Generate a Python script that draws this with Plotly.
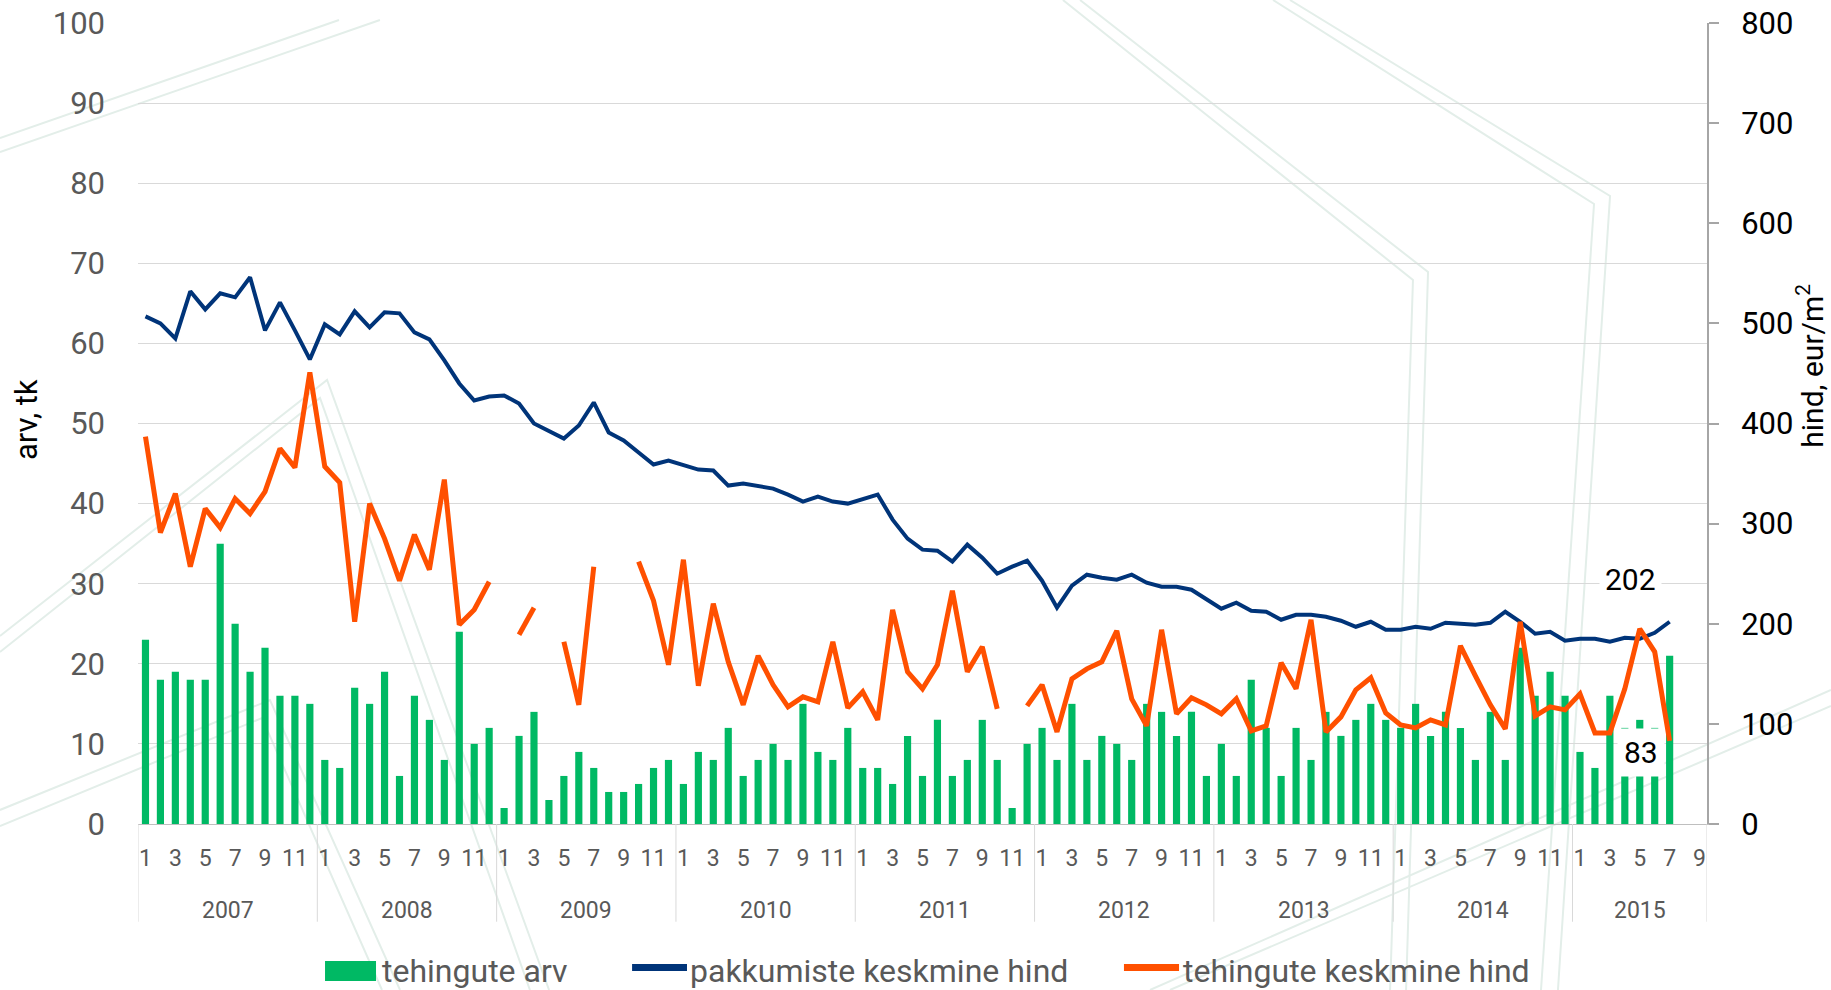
import plotly.graph_objects as go

# ---------------- data ----------------
years = [2007, 2008, 2009, 2010, 2011, 2012, 2013, 2014, 2015]
months_in_axis = [12, 12, 12, 12, 12, 12, 12, 12, 9]
shown_months = [1, 3, 5, 7, 9, 11]

# tehingute arv (left axis, count)
tehingute_arv = [
    23, 18, 19, 18, 18, 35, 25, 19, 22, 16, 16, 15,   # 2007
    8, 7, 17, 15, 19, 6, 16, 13, 8, 24, 10, 12,       # 2008
    2, 11, 14, 3, 6, 9, 7, 4, 4, 5, 7, 8,             # 2009
    5, 9, 8, 12, 6, 8, 10, 8, 15, 9, 8, 12,           # 2010
    7, 7, 5, 11, 6, 13, 6, 8, 13, 8, 2, 10,           # 2011
    12, 8, 15, 8, 11, 10, 8, 15, 14, 11, 14, 6,       # 2012
    10, 6, 18, 12, 6, 12, 8, 14, 11, 13, 15, 13,      # 2013
    12, 15, 11, 14, 12, 8, 14, 8, 22, 16, 19, 16,     # 2014
    9, 7, 16, 12, 13, 12, 21,                         # 2015
]

# pakkumiste keskmine hind (right axis, eur/m2)
pakkumiste_hind = [
    507, 500, 485, 532, 514, 530, 526, 546, 493, 521, 493, 464,
    499, 489, 512, 496, 511, 510, 491, 484, 463, 440, 423, 427,
    428, 420, 400, 392, 385, 398, 421, 391, 383, 371, 359, 363,
    359, 354, 353, 338, 340, 338, 335, 329, 322, 327, 322, 320,
    325, 329, 304, 285, 274, 273, 262, 279, 266, 250, 257, 263,
    243, 216, 238, 249, 246, 244, 249, 241, 237, 237, 234, 224,
    215, 221, 213, 212, 204, 209, 209, 207, 203, 197, 202, 194,
    194, 197, 195, 201, 200, 199, 201, 212, 202, 190, 192, 183,
    185, 185, 182, 186, 185, 191, 202,
]

# tehingute keskmine hind (right axis, eur/m2); None = no data
tehingute_hind = [
    387, 291, 330, 257, 315, 296, 325, 310, 332, 375, 356, 451,
    357, 341, 202, 320, 285, 243, 289, 254, 344, 199, 214, 242,
    None, 189, 216, None, 182, 119, 257, None, None, 262, 223, 159,
    264, 138, 220, 162, 119, 168, 139, 117, 127, 122, 182, 116,
    132, 104, 214, 152, 135, 159, 233, 152, 177, 115, None, 118,
    139, 92, 145, 155, 162, 193, 125, 98, 194, 110, 126, 119,
    110, 125, 93, 98, 161, 135, 204, 92, 107, 134, 146, 111,
    99, 96, 104, 99, 178, 148, 119, 95, 202, 108, 117, 114,
    130, 91, 91, 135, 195, 172, 83,
]

legend_names = ["tehingute arv", "pakkumiste keskmine hind", "tehingute keskmine hind"]

# ---------------- derived axis structure ----------------
slots = [(y, m) for y, n in zip(years, months_in_axis) for m in range(1, n + 1)]
tickvals = [i for i, (y, m) in enumerate(slots) if m in shown_months]
ticktext = [str(slots[i][1]) for i in tickvals]
x_data = list(range(len(tehingute_arv)))

boundaries = [-0.5]
centers = []
pos = -0.5
for n in months_in_axis:
    centers.append(pos + n / 2)
    pos += n
    boundaries.append(pos)

GREEN = "#00B964"
NAVY = "#003479"
ORANGE = "#FF5000"
GRID = "#D9D9D9"
GRAY_TXT = "#595959"
WM = "#E3EEE9"
FONT = "Roboto"

W, H = 1831, 990
ML, MR, MT, MB = 138, 124, 23, 166
PW, PH = W - ML - MR, H - MT - MB


def px(X, Y):
    """page pixel -> paper coordinates (for decoration only)"""
    return (X - ML) / PW, (H - MB - Y) / PH


def wm_path(points):
    pts = [px(X, Y) for X, Y in points]
    return "M " + " L ".join(f"{a:.4f},{b:.4f}" for a, b in pts)


fig = go.Figure()
fig.add_trace(go.Bar(x=x_data, y=tehingute_arv, name=legend_names[0],
                     marker=dict(color=GREEN, line=dict(width=0)), yaxis="y"))
fig.add_trace(go.Scatter(x=x_data, y=pakkumiste_hind, name=legend_names[1],
                         mode="lines", line=dict(color=NAVY, width=4), yaxis="y2"))
fig.add_trace(go.Scatter(x=x_data, y=tehingute_hind, name=legend_names[2],
                         mode="lines", line=dict(color=ORANGE, width=5),
                         connectgaps=False, yaxis="y2"))

shapes = []
# faint background watermark (decorative double lines)
watermark = [
    [(0, 138), (339, 20)], [(0, 152), (380, 20)],
    [(0, 636), (327, 380), (549, 990)], [(0, 652), (320, 398), (530, 990)],
    [(0, 810), (270, 700), (400, 990)], [(0, 826), (262, 718), (382, 990)],
    [(1063, 0), (1413, 280), (1390, 990)], [(1080, 0), (1428, 272), (1406, 990)],
    [(1273, 0), (1594, 204), (1541, 990)], [(1290, 0), (1610, 196), (1558, 990)],
    [(1150, 990), (1831, 690)], [(1170, 990), (1831, 706)],
]
for pts in watermark:
    shapes.append(dict(type="path", xref="paper", yref="paper", path=wm_path(pts),
                       line=dict(color=WM, width=2), layer="below"))

for b in boundaries:
    shapes.append(dict(type="line", xref="x", yref="paper", x0=b, x1=b, y0=0, y1=-0.122,
                       line=dict(color=GRID, width=1)))

# manual legend (paper coordinates)
leg_y = -0.183
shapes += [
    dict(type="rect", xref="paper", yref="paper", x0=0.1192, x1=0.1517, y0=-0.171, y1=-0.196,
         fillcolor=GREEN, line=dict(width=0)),
    dict(type="line", xref="paper", yref="paper", x0=0.3149, x1=0.3499, y0=-0.179, y1=-0.179,
         line=dict(color=NAVY, width=7)),
    dict(type="line", xref="paper", yref="paper", x0=0.6284, x1=0.6635, y0=-0.179, y1=-0.179,
         line=dict(color=ORANGE, width=7)),
]

annotations = []
for c, yv in zip(centers, years):
    annotations.append(dict(x=c, y=-0.108, xref="x", yref="paper", text=str(yv),
                            showarrow=False, font=dict(family=FONT, size=23, color=GRAY_TXT),
                            yanchor="middle"))

for xl, name in zip([0.1540, 0.3505, 0.6650], legend_names):
    annotations.append(dict(x=xl, y=leg_y, xref="paper", yref="paper", text=name,
                            xanchor="left", yanchor="middle", showarrow=False,
                            font=dict(family=FONT, size=32, color=GRAY_TXT)))

annotations += [
    dict(x=-0.071, y=0.505, xref="paper", yref="paper", text="arv, tk", textangle=-90,
         xanchor="center", yanchor="middle",
         showarrow=False, font=dict(family=FONT, size=31, color="#000000")),
    dict(x=1.0662, y=0.572, xref="paper", yref="paper", text="hind, eur/m<sup>2</sup>",
         textangle=-90, xanchor="center", yanchor="middle",
         showarrow=False, font=dict(family=FONT, size=30, color="#000000")),
    dict(x=x_data[-1], y=pakkumiste_hind[-1], xref="x", yref="y2", text=str(pakkumiste_hind[-1]),
         showarrow=False, xshift=-39, yshift=42, bgcolor="white", borderpad=5,
         font=dict(family=FONT, size=30, color="#000000")),
    dict(x=x_data[-1], y=tehingute_hind[-1], xref="x", yref="y2", text=str(tehingute_hind[-1]),
         showarrow=False, xshift=-29, yshift=-12, bgcolor="white", borderpad=6,
         font=dict(family=FONT, size=30, color="#000000")),
]

fig.update_layout(
    width=W, height=H,
    margin=dict(l=ML, r=MR, t=MT, b=MB, autoexpand=False),
    paper_bgcolor="white", plot_bgcolor="rgba(0,0,0,0)",
    bargap=0.52,
    showlegend=False,
    xaxis=dict(range=[-0.5, len(slots) - 0.5], tickmode="array", tickvals=tickvals,
               ticktext=ticktext, showgrid=False, zeroline=False, showline=True,
               linecolor="#BFBFBF", linewidth=1, ticks="", ticklabelstandoff=13,
               automargin=False,
               tickfont=dict(family=FONT, size=23, color=GRAY_TXT)),
    yaxis=dict(range=[0, 100], dtick=10, showgrid=True, gridcolor=GRID, gridwidth=1,
               zeroline=False, showline=False, ticks="", ticklabelstandoff=32,
               automargin=False,
               tickfont=dict(family=FONT, size=31, color=GRAY_TXT)),
    yaxis2=dict(range=[0, 800], dtick=100, overlaying="y", side="right", showgrid=False,
                zeroline=False, showline=True, linecolor="#A6A6A6", linewidth=2,
                ticks="outside", ticklen=10, tickcolor="#A6A6A6", tickwidth=2,
                ticklabelstandoff=16, automargin=False,
                tickfont=dict(family=FONT, size=31, color="#000000")),
    shapes=shapes,
    annotations=annotations,
)

fig.write_html("out.html", config={"displayModeBar": False},
               post_script="document.body.style.margin='0';document.body.style.overflow='hidden';")
